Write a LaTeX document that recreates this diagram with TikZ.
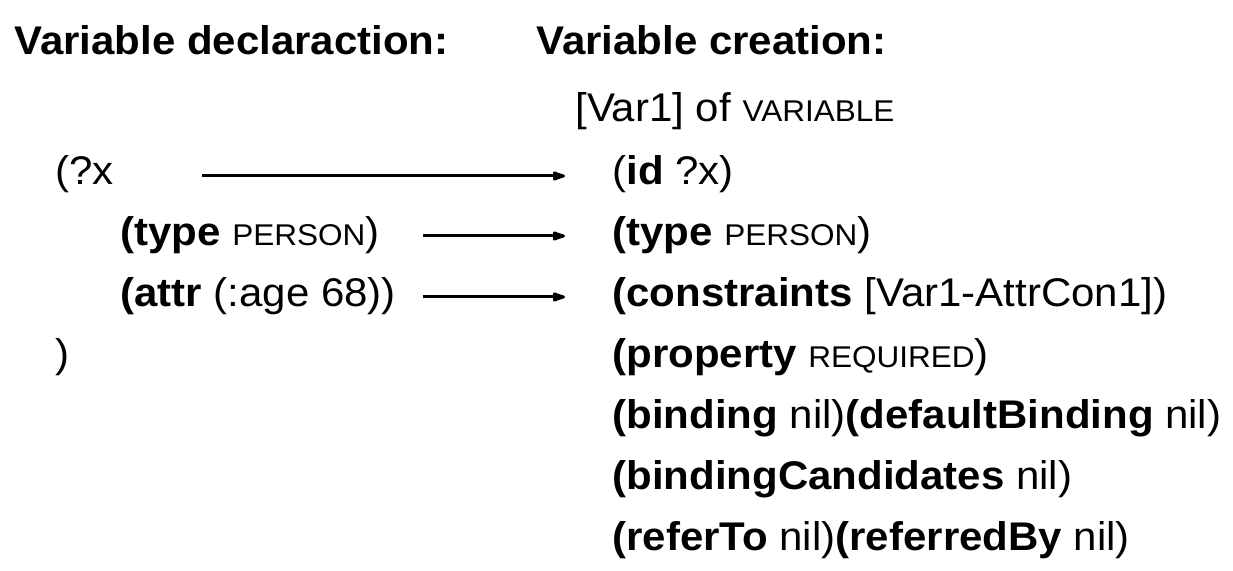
\documentclass[tikz,border=0pt]{standalone}
\usepackage{fontspec}
\setmainfont{Liberation Sans}[FakeStretch=1.05]
\usetikzlibrary{arrows.meta}
% small capitals imitated with reduced upper case
\newcommand{\smc}[1]{{\fontsize{15}{18}\selectfont #1}}
\tikzset{
  txt/.style={anchor=base west, inner sep=0pt, font=\fontsize{20}{24}\selectfont},
  head/.style={txt, font=\fontsize{20}{24}\selectfont\bfseries},
  maps/.style={line width=1.5pt, -{Latex[length=9pt,width=5.5pt,round]}},
}
\begin{document}
\begin{tikzpicture}[x=0.5pt,y=-0.5pt]
\useasboundingbox (0,0) rectangle (1233,571);
% column headings
\node[head] (hdecl) at (14,55) {Variable declaraction:};
\node[head] (hcrea) at (536,55) {Variable creation:};
\node[txt] (inst) at (575,122) {[Var1] of \smc{VARIABLE}};
% declaration side
\node[txt] (dx) at (55,185) {(?x};
\node[txt] (dtype) at (120,246) {\textbf{(type} \smc{PERSON})};
\node[txt] (dattr) at (120,307) {\textbf{(attr} (:age 68))};
\node[txt] (dclose) at (55,368) {)};
% creation side
\node[txt] (cid) at (612,185) {(\textbf{id} ?x)};
\node[txt] (ctype) at (612,246) {\textbf{(type} \smc{PERSON})};
\node[txt] (ccons) at (612,307) {\textbf{(constraints} [Var1-AttrCon1])};
\node[txt] (cprop) at (612,368) {\textbf{(property} \smc{REQUIRED})};
\node[txt] (cbind) at (612,429) {\textbf{(binding} nil)\textbf{(defaultBinding} nil)};
\node[txt] (ccand) at (612,490) {\textbf{(bindingCandidates} nil)};
\node[txt] (cref) at (612,551) {\textbf{(referTo} nil)\textbf{(referredBy} nil)};
% mapping arrows from declaration clauses to created slots
\coordinate (a1s) at (202,176);
\coordinate (a1e) at (565,176);
\coordinate (a2s) at (423,236);
\coordinate (a2e) at (565,236);
\coordinate (a3s) at (423,297);
\coordinate (a3e) at (565,297);
\draw[maps] (a1s) -- (a1e);
\draw[maps] (a2s) -- (a2e);
\draw[maps] (a3s) -- (a3e);
\end{tikzpicture}
\end{document}
